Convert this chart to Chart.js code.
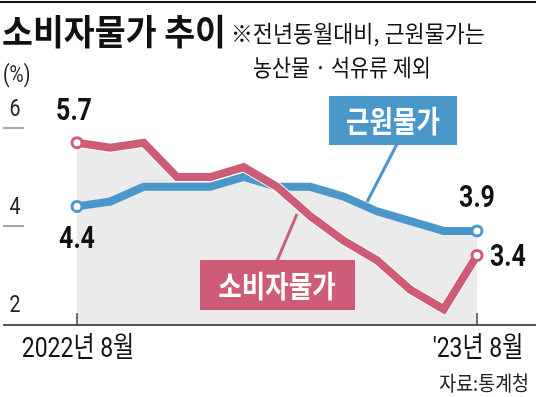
<!DOCTYPE html>
<html>
<head>
<meta charset="utf-8">
<script src="https://cdn.jsdelivr.net/npm/chart.js@4/dist/chart.umd.min.js"></script>
<style>
  html, body { margin: 0; padding: 0; background: #fff; }
  canvas { display: block; }
</style>
</head>
<body>
<canvas id="cpiChart" width="536" height="397"></canvas>
<script>
// ===== 데이터 =====
const months = ['2022년 8월', '9월', '10월', '11월', '12월', '2023년 1월', '2월', '3월', '4월', '5월', '6월', '7월', "'23년 8월"];
const cpi = [5.7, 5.6, 5.7, 5.0, 5.0, 5.2, 4.8, 4.2, 3.7, 3.3, 2.7, 2.3, 3.4];   // 소비자물가
const core = [4.4, 4.5, 4.8, 4.8, 4.8, 5.0, 4.8, 4.8, 4.6, 4.3, 4.1, 3.9, 3.9];  // 근원물가
const yTicks = [6, 4, 2];
const xTickLabels = ['2022년 8월', "'23년 8월"];

const RED = '#cf5c76';
const BLUE = '#4a98c9';
const GRAY = '#ebebeb';
const NUM_FONT = "Roboto, 'Noto Sans CJK KR'";
const KR_FONT = "'Noto Sans CJK KR', 'Noto Sans', sans-serif";
const MIX_FONT = "Roboto, 'Noto Sans CJK KR', sans-serif";

const last = months.length - 1;
const endRadius = ctx => (ctx.dataIndex === 0 || ctx.dataIndex === last) ? 5 : 0;

// 가로로 좁힌 글자 (원본의 장체 느낌)
function text(ctx, str, x, y, font, color, align, sx) {
    ctx.save();
    ctx.font = font;
    ctx.fillStyle = color;
    ctx.textAlign = align || 'left';
    ctx.textBaseline = 'middle';
    ctx.translate(x, y);
    ctx.scale(sx || 1, 1);
    ctx.fillText(str, 0, 0);
    ctx.restore();
}

function line(ctx, x1, y1, x2, y2, color, width) {
    ctx.beginPath();
    ctx.moveTo(x1, y1);
    ctx.lineTo(x2, y2);
    ctx.strokeStyle = color;
    ctx.lineWidth = width;
    ctx.stroke();
}

// 꾸밈 요소: 제목, 축, 라벨 상자
const decor = {
    id: 'decor',
    beforeDatasetDraw(chart, args) {
        // 소비자물가 선 아래 흰 테두리
        if (args.index !== 0) return;
        const pts = args.meta.data;
        const ctx = chart.ctx;
        ctx.save();
        ctx.beginPath();
        pts.forEach((p, i) => i ? ctx.lineTo(p.x, p.y) : ctx.moveTo(p.x, p.y));
        ctx.strokeStyle = '#fff';
        ctx.lineWidth = 10;
        ctx.stroke();
        ctx.restore();
    },
    afterDraw(chart) {
        const ctx = chart.ctx;
        const xs = chart.scales.x;
        const ys = chart.scales.y;
        const area = chart.chartArea;
        ctx.save();

        // 상단 선과 제목
        ctx.fillStyle = '#111';
        ctx.fillRect(0, 1, 536, 2);
        text(ctx, '소비자물가 추이', 2, 32, `bold 35px ${KR_FONT}`, '#111', 'left', 0.96);
        text(ctx, '※전년동월대비, 근원물가는', 231, 33, `23px ${KR_FONT}`, '#111', 'left', 0.95);
        text(ctx, '농산물 · 석유류 제외', 253, 67, `23px ${KR_FONT}`, '#111', 'left', 0.9);
        text(ctx, '(%)', 3, 76, `24px ${MIX_FONT}`, '#222', 'left', 0.8);

        // y축 눈금
        yTicks.forEach(v => {
            const y = ys.getPixelForValue(v);
            if (v !== ys.min) line(ctx, 3, y, 24, y, '#888', 1.5);
            text(ctx, String(v), 15, y - 18, `23px ${NUM_FONT}`, '#222', 'center', 0.85);
        });

        // x축
        line(ctx, 3, area.bottom + 1, 536, area.bottom + 1, '#555', 2);
        [0, last].forEach((idx, k) => {
            const x = xs.getPixelForValue(idx);
            line(ctx, x, area.bottom - 11, x, area.bottom + 1, '#444', 1.5);
            text(ctx, xTickLabels[k], x + 1, area.bottom + 26, `28px ${MIX_FONT}`, '#111', 'center', 0.82);
        });
        text(ctx, '자료:통계청', 529, 383, `20px ${KR_FONT}`, '#222', 'right', 0.92);

        // 값 라벨
        const numFont = `bold 32px ${NUM_FONT}`;
        const xr = chart.getDatasetMeta(0).data;
        const xb = chart.getDatasetMeta(1).data;
        text(ctx, cpi[0].toFixed(1), xr[0].x - 3, xr[0].y - 31, numFont, '#111', 'center', 0.78);
        text(ctx, core[0].toFixed(1), xb[0].x, xb[0].y + 34, numFont, '#111', 'center', 0.78);
        text(ctx, core[last].toFixed(1), xb[last].x, xb[last].y - 32, numFont, '#111', 'center', 0.78);
        text(ctx, cpi[last].toFixed(1), xr[last].x + 13, xr[last].y + 3, numFont, '#111', 'left', 0.78);

        // 근원물가 상자
        line(ctx, 397, 144, 367, 202, BLUE, 3);
        ctx.fillStyle = BLUE;
        ctx.fillRect(329, 96, 128, 49);
        text(ctx, '근원물가', 393, 121, `bold 30px ${KR_FONT}`, '#fff', 'center', 0.85);

        // 소비자물가 상자
        line(ctx, 277, 261, 297, 214, RED, 3);
        ctx.fillStyle = RED;
        ctx.fillRect(200, 260, 155, 50);
        text(ctx, '소비자물가', 277, 286, `bold 30px ${KR_FONT}`, '#fff', 'center', 0.85);

        ctx.restore();
    }
};

new Chart(document.getElementById('cpiChart'), {
    type: 'line',
    data: {
        labels: months,
        datasets: [
            {
                label: '소비자물가',
                data: cpi,
                borderColor: RED,
                borderWidth: 8,
                backgroundColor: GRAY,
                fill: 'start',
                tension: 0,
                pointRadius: endRadius,
                pointBackgroundColor: '#fff',
                pointBorderColor: RED,
                pointBorderWidth: 3
            },
            {
                label: '근원물가',
                data: core,
                borderColor: BLUE,
                borderWidth: 8,
                backgroundColor: GRAY,
                fill: 'start',
                tension: 0,
                pointRadius: endRadius,
                pointBackgroundColor: '#fff',
                pointBorderColor: BLUE,
                pointBorderWidth: 3
            }
        ]
    },
    options: {
        responsive: false,
        animation: false,
        layout: {
            padding: { left: 77, right: 59, top: 128, bottom: 73 }
        },
        scales: {
            x: { display: false, offset: false },
            y: { display: false, min: 2, max: 6 }
        },
        plugins: {
            legend: { display: false },
            tooltip: { enabled: false },
            filler: { drawTime: 'beforeDatasetsDraw' }
        }
    },
    plugins: [decor]
});
</script>
</body>
</html>
